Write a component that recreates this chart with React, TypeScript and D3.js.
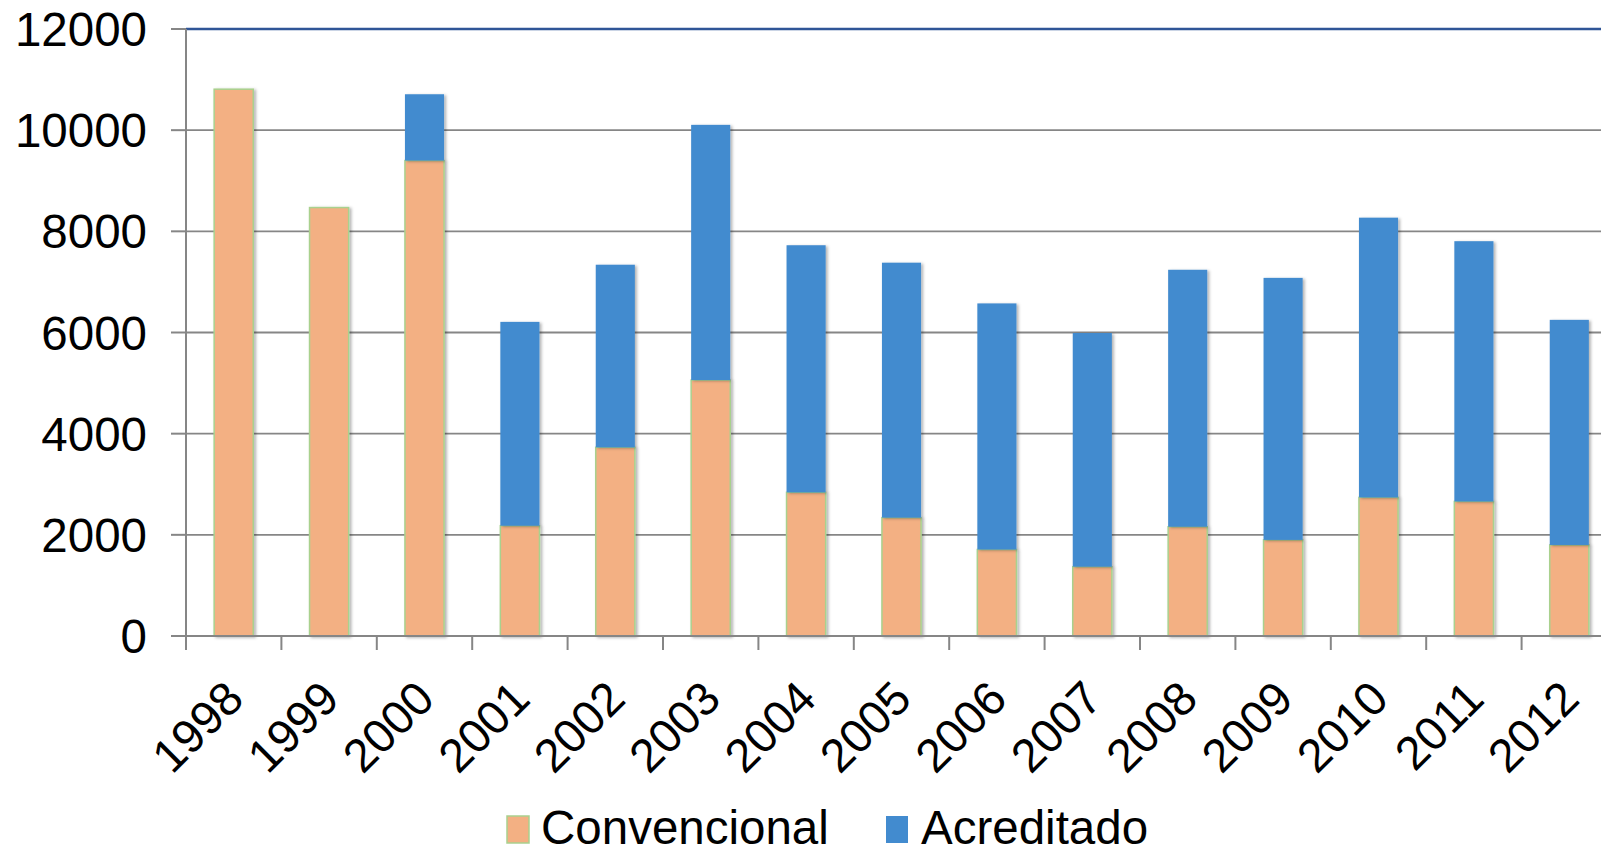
import React, { useEffect, useRef } from 'react'
import * as d3 from 'd3'

const years = ['1998', '1999', '2000', '2001', '2002', '2003', '2004', '2005', '2006', '2007', '2008', '2009', '2010', '2011', '2012']
const convencional = [10810, 8470, 9400, 2180, 3730, 5060, 2840, 2340, 1710, 1370, 2160, 1900, 2740, 2660, 1800]
const acreditado = [0, 0, 1310, 4030, 3610, 5045, 4885, 5040, 4865, 4620, 5080, 5180, 5530, 5145, 4450]
const yTicks = [0, 2000, 4000, 6000, 8000, 10000, 12000]

const seriesNames = ['Convencional', 'Acreditado']
const colors = ['#F3B083', '#428BCF']

const W = 1601
const H = 848

const App = () => {
    const svgRef = useRef<SVGSVGElement | null>(null)

    useEffect(() => {
        const svg = d3.select(svgRef.current)
        svg.selectAll('*').remove()

        const left = 186
        const right = 1617
        const top = 29
        const bottom = 636
        const font = 'Liberation Sans, Arial, sans-serif'

        const x = d3.scaleBand<string>().domain(years).range([left, right]).paddingInner(0.59).paddingOuter(0.295)
        const y = d3.scaleLinear().domain([0, 12000]).range([bottom, top])

        const defs = svg.append('defs')
        const f = defs.append('filter').attr('id', 'shadow').attr('x', '-20%').attr('y', '-5%').attr('width', '150%').attr('height', '115%')
        f.append('feDropShadow').attr('dx', 2).attr('dy', 1).attr('stdDeviation', 1.5).attr('flood-color', '#000').attr('flood-opacity', 0.3)

        // gridlines
        svg.append('g')
            .selectAll('line')
            .data(yTicks.filter(t => t > 0))
            .enter()
            .append('line')
            .attr('x1', left)
            .attr('x2', W)
            .attr('y1', d => y(d))
            .attr('y2', d => y(d))
            .attr('stroke', d => (d === 12000 ? '#2F5597' : '#868686'))
            .attr('stroke-width', d => (d === 12000 ? 2.5 : 1.8))

        // stacked bars
        const rows = years.map((yr, i) => ({ year: yr, Convencional: convencional[i], Acreditado: acreditado[i] }))
        const stack = d3.stack<any>().keys(seriesNames)
        const layers = stack(rows)

        const g = svg.append('g')
        layers.forEach((layer, li) => {
            g.append('g')
                .selectAll('rect')
                .data(layer.filter(d => d[1] - d[0] > 0))
                .enter()
                .append('rect')
                .attr('x', d => x(d.data.year) as number)
                .attr('width', x.bandwidth())
                .attr('y', d => y(d[1]))
                .attr('height', d => y(d[0]) - y(d[1]))
                .attr('fill', colors[li])
                .attr('stroke', li === 0 ? '#A9D18E' : 'none')
                .attr('stroke-width', 1.5)
                .attr('filter', 'url(#shadow)')
        })

        // axes
        const axisColor = '#868686'
        svg.append('line').attr('x1', left).attr('x2', left).attr('y1', top).attr('y2', bottom).attr('stroke', axisColor).attr('stroke-width', 2)
        svg.append('line').attr('x1', left - 15).attr('x2', W).attr('y1', bottom).attr('y2', bottom).attr('stroke', axisColor).attr('stroke-width', 2)

        svg.append('g')
            .selectAll('line')
            .data(yTicks)
            .enter()
            .append('line')
            .attr('x1', left - 15)
            .attr('x2', left)
            .attr('y1', d => y(d))
            .attr('y2', d => y(d))
            .attr('stroke', axisColor)
            .attr('stroke-width', 2)

        const step = x.step()
        const tickXs = years.map(yr => (x(yr) as number) - (step * 0.59) / 2)
        svg.append('g')
            .selectAll('line')
            .data(tickXs)
            .enter()
            .append('line')
            .attr('x1', d => d)
            .attr('x2', d => d)
            .attr('y1', bottom)
            .attr('y2', bottom + 14)
            .attr('stroke', axisColor)
            .attr('stroke-width', 2)

        svg.append('g')
            .selectAll('text')
            .data(yTicks)
            .enter()
            .append('text')
            .attr('x', left - 39)
            .attr('y', d => y(d))
            .attr('dy', '0.36em')
            .attr('text-anchor', 'end')
            .attr('font-family', font)
            .attr('font-size', 47.5)
            .attr('fill', '#000')
            .text(d => String(d))

        svg.append('g')
            .selectAll('text')
            .data(years)
            .enter()
            .append('text')
            .attr('transform', d => `translate(${(x(d) as number) + x.bandwidth() / 2 - 11},${bottom + 42}) rotate(-45)`)
            .attr('text-anchor', 'end')
            .attr('dy', '0.7em')
            .attr('font-family', font)
            .attr('font-size', 47)
            .attr('fill', '#000')
            .text(d => d)

        // legend
        const legendItems = [
            { name: seriesNames[0], color: colors[0], sx: 507, tx: 541 },
            { name: seriesNames[1], color: colors[1], sx: 886, tx: 921 },
        ]
        const lg = svg.append('g')
        legendItems.forEach((it, i) => {
            lg.append('rect')
                .attr('x', it.sx)
                .attr('y', 816)
                .attr('width', 22)
                .attr('height', 27)
                .attr('fill', it.color)
                .attr('stroke', i === 0 ? '#A9D18E' : 'none')
                .attr('stroke-width', 1.5)
            lg.append('text')
                .attr('x', it.tx)
                .attr('y', 844)
                .attr('font-family', font)
                .attr('font-size', 47.5)
                .attr('fill', '#000')
                .text(it.name)
        })
    }, [])

    return (
        <div style={{ position: 'absolute', left: 0, top: 0 }}>
            <svg ref={svgRef} width={W} height={H} style={{ display: 'block', background: '#fff' }}></svg>
        </div>
    )
}

export default App
